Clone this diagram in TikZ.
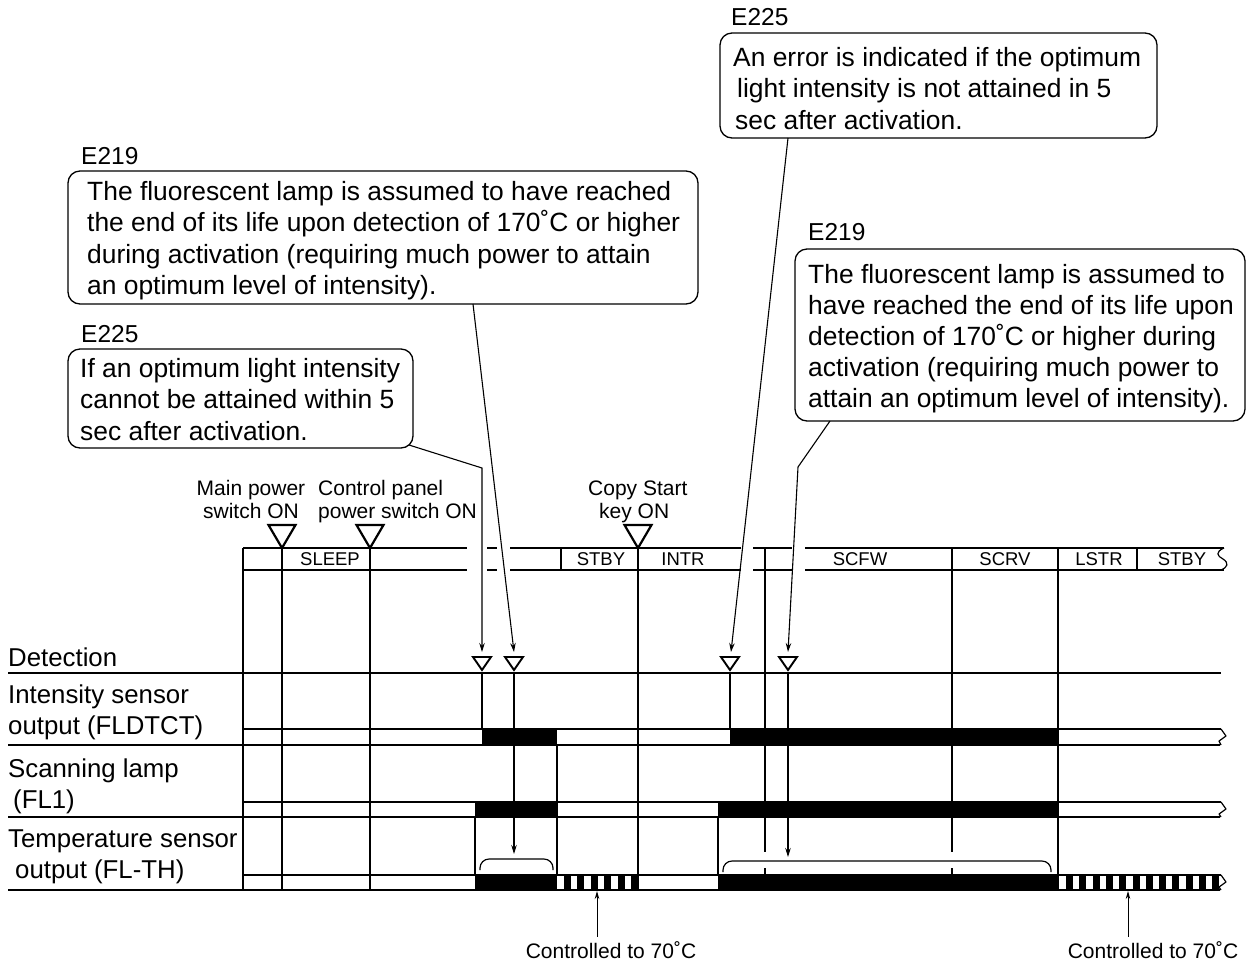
\documentclass[tikz,border=0pt]{standalone}
\usepackage{fontspec}
\setmainfont{Liberation Sans}
\usetikzlibrary{arrows.meta}
\begin{document}
\begin{tikzpicture}[x=1pt,y=-1pt,
  gridline/.style={line width=1.2pt},
  leader/.style={line width=1.1pt,-{Stealth[length=9pt,width=5.5pt]}},
  leadersm/.style={line width=1pt,-{Stealth[length=8pt,width=4.5pt]}},
  bigtri/.style={line width=2.2pt,line join=miter},
  smalltri/.style={line width=1.9pt,line join=miter},
  cbox/.style={draw,line width=1.3pt,rounded corners=12pt,anchor=north west,inner sep=0pt,outer sep=0pt},
  ctext/.style={font=\fontsize{26.4}{31.5}\selectfont,align=left,inner sep=0pt,anchor=base west},
  elab/.style={font=\fontsize{24.5}{28}\selectfont,inner sep=0pt,anchor=base west},
  rowlab/.style={font=\fontsize{25.8}{31}\selectfont,align=left,inner sep=0pt,anchor=base west},
  toplab/.style={font=\fontsize{21}{23}\selectfont,inner sep=0pt},
  hdrlab/.style={font=\fontsize{18.5}{20}\selectfont,inner sep=0pt,anchor=base},
  botlab/.style={font=\fontsize{21}{23}\selectfont,inner sep=4pt,anchor=base},
]
\useasboundingbox (0,0) rectangle (1247,967);

% ---------- callouts (multi-line nodes: base = last line) ----------
\node[elab] (eA) at (731,25) {E225};
\node[cbox,minimum width=437pt,minimum height=105pt] (bA) at (720,33) {};
\node[ctext] (tA) at (733,129) {An error is indicated if the optimum\\\hspace*{4pt}light intensity is not attained in 5\\\hspace*{2pt}sec after activation.};

\node[elab] (eB) at (81,164) {E219};
\node[cbox,minimum width=630pt,minimum height=133pt] (bB) at (68,171) {};
\node[ctext] (tB) at (87,294.5) {The fluorescent lamp is assumed to have reached\\the end of its life upon detection of 170˚C or higher\\during activation (requiring much power to attain\\an optimum level of intensity).};

\node[elab] (eC) at (81,342) {E225};
\node[cbox,minimum width=345pt,minimum height=99pt] (bC) at (68,349) {};
\node[ctext] (tC) at (80,440) {If an optimum light intensity\\cannot be attained within 5\\sec after activation.};

\node[elab] (eD) at (808,240) {E219};
\node[cbox,minimum width=450pt,minimum height=172pt] (bD) at (795,249) {};
\node[ctext,font=\fontsize{26.4}{31}\selectfont] (tD) at (808,407) {The fluorescent lamp is assumed to\\have reached the end of its life upon\\detection of 170˚C or higher during\\activation (requiring much power to\\attain an optimum level of intensity).};

% ---------- top event labels ----------
\node[toplab,align=center,anchor=base] (lMain) at (251,518) {Main power\\switch ON};
\node[toplab,align=left,anchor=base west] (lCtrl) at (318,518) {Control panel\\power switch ON};
\node[toplab,align=left,anchor=base west] (lCopy) at (588,518) {Copy Start\\\hspace*{11pt}key ON};

% ---------- header band ----------
\foreach \a/\b in {243/467, 487/497, 510/741, 753/792, 805/1224} {
  \draw[gridline] (\a,548) -- (\b,548);
  \draw[gridline] (\a,570) -- (\b,570);
}
\draw[gridline] (1224,548) .. controls (1215,552) and (1217,556) .. (1223,559) .. controls (1229,563) and (1228,567) .. (1221,570);
\foreach \x in {561,1137} \draw[gridline] (\x,548) -- (\x,570);

\node[hdrlab] (hSleep) at (330,565.5) {SLEEP};
\node[hdrlab] (hStbyA) at (601,565.5) {STBY};
\node[hdrlab] (hIntr) at (683,565.5) {INTR};
\node[hdrlab] (hScfw) at (860,565.5) {SCFW};
\node[hdrlab] (hScrv) at (1005,565.5) {SCRV};
\node[hdrlab] (hLstr) at (1099,565.5) {LSTR};
\node[hdrlab] (hStbyB) at (1182,565.5) {STBY};

% event triangles
\foreach \c in {282,370,638}
  \draw[bigtri] ({\c-13.5},525) -- ({\c+13.5},525) -- (\c,548) -- cycle;

% ---------- vertical time lines ----------
\foreach \x in {243,282,370,638,1058} \draw[gridline] (\x,548) -- (\x,890);
\foreach \x in {765,952} {
  \draw[gridline] (\x,548) -- (\x,852);
  \draw[gridline] (\x,868) -- (\x,890);
}

% ---------- rows ----------
\draw[gridline] (8,673) -- (1221,673);
\foreach \t/\b in {729/745, 802/817, 875/890} {
  \draw[gridline] (243,\t) -- (1221,\t);
  \draw[gridline] (8,\b) -- (1220,\b);
  \draw[gridline,line join=round] (1221,\t) -- (1226,{\t+7}) -- (1219,{\t+12}) -- (1221,\b);
}

\node[rowlab] (rDet) at (8,666) {Detection};
\node[rowlab] (rInt) at (8,734) {Intensity sensor\\output (FLDTCT)};
\node[rowlab] (rLamp) at (8,808) {Scanning lamp\\\hspace*{5pt}(FL1)};
\node[rowlab] (rTemp) at (8,878) {Temperature sensor\\\hspace*{7pt}output (FL-TH)};

% ---------- signal bars ----------
\fill (482,729) rectangle (557,745);
\fill (730,729) rectangle (1058,745);
\fill (475,802) rectangle (557,817);
\fill (718,802) rectangle (1058,817);
\fill (475,875) rectangle (557,890);
\fill (718,875) rectangle (1058,890);
\foreach \k in {0,...,5} \fill ({564+13.4*\k},875) rectangle ++(7,15);
\foreach \k in {0,...,11} \fill ({1066+13.3*\k},875) rectangle ++(7,15);

\draw[gridline] (557,745) -- (557,875);
\draw[gridline] (475,817) -- (475,875);
\draw[gridline] (718,817) -- (718,875);
\draw[gridline] (482,673) -- (482,729);
\draw[gridline] (730,673) -- (730,729);

% braces
\draw[gridline,rounded corners=9pt] (480,870) -- (480,859) -- (553,859) -- (553,870);
\draw[gridline,rounded corners=9pt] (723,872) -- (723,861) -- (1051,861) -- (1051,872);

% detection triangles
\foreach \c in {482,514,730,788}
  \draw[smalltri] ({\c-9},657) -- ({\c+9},657) -- (\c,670) -- cycle;

% detection arrows to braces
\coordinate (brA) at (514,854);
\coordinate (brB) at (788,857);
\draw[leader] (514,673) -- (brA);
\draw[leader] (788,673) -- (brB);

% ---------- leaders from callouts ----------
\coordinate (pA) at (731,652);
\coordinate (pB) at (514,652);
\coordinate (pC) at (482,652);
\coordinate (pD) at (788,652);
\draw[leader] ([xshift=68pt]bA.south west) -- (pA);
\draw[leader] ([xshift=405pt]bB.south west) -- (pB);
\draw[leader] ([xshift=-4pt,yshift=3pt]bC.south east) -- (482,468) -- (pC);
\draw[leader] ([xshift=35pt]bD.south west) -- (798,467) -- (pD);

% ---------- bottom notes ----------
\coordinate (cA) at (597,891);
\coordinate (cB) at (1128,891);
\node[botlab] (ctlA) at (611,958) {Controlled to 70˚C};
\node[botlab] (ctlB) at (1153,958) {Controlled to 70˚C};
\draw[leadersm] (ctlA.north -| cA) -- (cA);
\draw[leadersm] (ctlB.north -| cB) -- (cB);
\end{tikzpicture}
\end{document}
